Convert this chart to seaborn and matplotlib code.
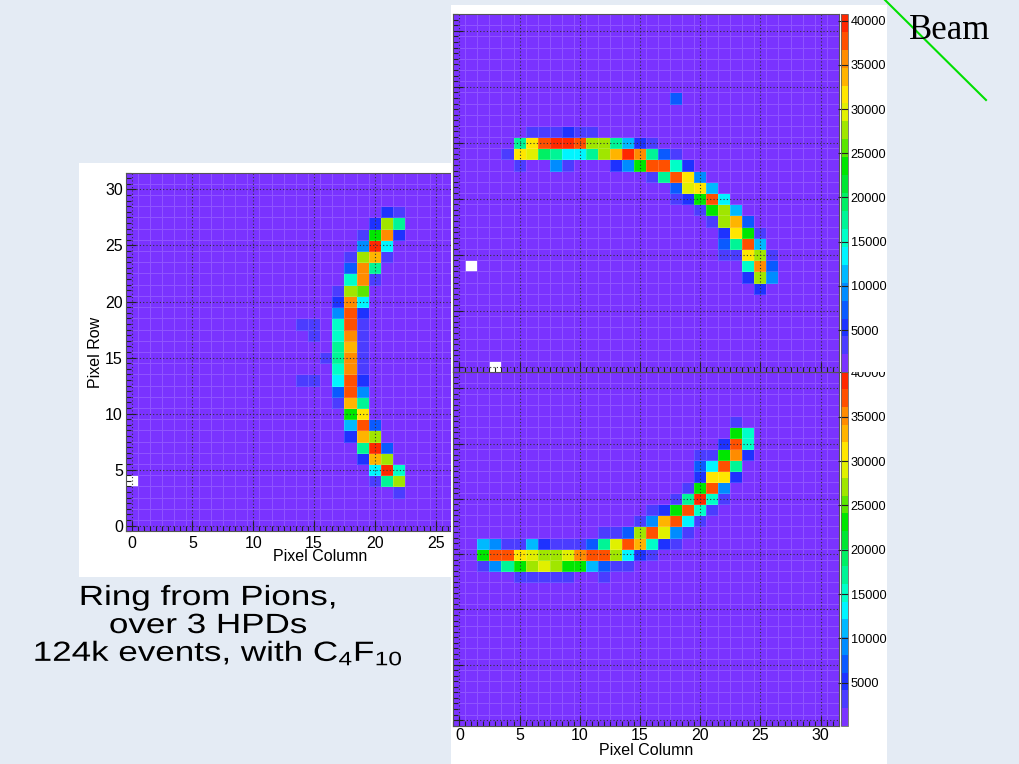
import numpy as np
import pandas as pd
import matplotlib
matplotlib.use("Agg")
import matplotlib.pyplot as plt
import seaborn as sns
from matplotlib.colors import ListedColormap
from matplotlib.patches import Rectangle
from matplotlib.lines import Line2D
from matplotlib.ticker import MultipleLocator
from matplotlib.patheffects import AbstractPathEffect
from matplotlib.transforms import Affine2D

plt.rcParams['font.family'] = ['Liberation Sans', 'DejaVu Sans']
plt.rcParams['mathtext.default'] = 'regular'

# ---------------------------------------------------------------- data
N_PIX = 32                      # 32 x 32 pixel HPD readout

# 20-level rainbow palette (low -> high)
root_palette = ['#7a33ff', '#4b3cff', '#1e32ff', '#0a5aff', '#008cff',
                '#00b9ff', '#00f5ff', '#00ffc8', '#00f596', '#00f064',
                '#00e632', '#00e600', '#5ae600', '#a0e600', '#e1f000',
                '#ffe600', '#ffb400', '#ff8c00', '#ff5000', '#ff2800']

cbar_ticks = [5000, 10000, 15000, 20000, 25000, 30000, 35000, 40000]

# HPD 1 (left): hits per row, as a run of pixel columns starting at `start`
left_rows = [28, 27, 26, 25, 24, 23, 22, 21, 20, 19, 18, 17, 16,
             15, 14, 13, 12, 11, 10, 9, 8, 7, 6, 5, 4, 3]
left_start = [21, 20, 19, 19, 18, 18, 18, 17, 17, 17, 14, 15, 17,
              16, 17, 14, 17, 17, 18, 18, 18, 19, 19, 20, 20, 22]
left_hits = [
    [5000, 3500],
    [5000, 27500, 17000],
    [3000, 23500, 35500, 5500],
    [9500, 39500, 13500],
    [3000, 27500, 33500, 3500],
    [7000, 35500, 17000],
    [15500, 35500, 3000],
    [3000, 27500, 25500],
    [5000, 35500, 13500],
    [9500, 37500, 5500],
    [3000, 3000, 0, 15500, 37500, 3500],
    [3000, 0, 15500, 35500, 3500],
    [17500, 33500, 3500],
    [3000, 17000, 35500, 3500],
    [15500, 35500, 3500],
    [3000, 3000, 0, 13500, 37500, 5000],
    [6500, 37500, 9500],
    [3000, 33500, 18000],
    [23500, 31000],
    [11500, 37500, 6500],
    [5000, 33500, 27500],
    [17500, 39500, 6500],
    [5000, 33500, 27500],
    [13500, 39500, 15500],
    [3000, 17000, 27500],
    [3500],
]
left_dead = [(0, 4)]            # (column, row)

# HPD 2 (top right)
top_rows = [24, 21, 20, 19, 18, 17, 16, 15, 14, 13, 12, 11, 10, 9, 8, 7]
top_start = [18, 6, 5, 4, 5, 16, 18, 18, 20, 21, 22, 22, 22, 24, 24, 25]
top_hits = [
    [7000],
    [3000, 3000, 3500, 5000, 3500, 3000],
    [17500, 31000, 37500, 39000, 39000, 37500, 27500, 27500, 17500, 11500, 5000, 3500],
    [3000, 31000, 29500, 19000, 17000, 13500, 13500, 18000, 27500, 33500, 39000,
     35500, 17500, 6500, 3500],
    [3000, 0, 0, 9500, 3500, 0, 0, 0, 5000, 9500, 23500, 37500, 37500, 15500, 5000],
    [3500, 17500, 38500, 31000, 9500],
    [6500, 29500, 31000, 11500],
    [3500, 5000, 23500, 37500, 13500],
    [3500, 23500, 27500, 11500],
    [3500, 27500, 33500, 6500],
    [5000, 31000, 23500, 3500],
    [6500, 17500, 37500, 11500],
    [3500, 3500, 31000, 27500, 3500],
    [15500, 35500, 7000],
    [5000, 27500, 9500],
    [5000],
]
top_dead = [(1, 9), (3, 0)]

# HPD 3 (bottom right)
bot_rows = [27, 26, 25, 24, 23, 22, 21, 20, 19, 18, 17, 16, 15, 14, 13]
bot_start = [23, 23, 22, 20, 20, 20, 19, 18, 16, 15, 12, 2, 2, 2, 5]
bot_hits = [
    [3500],
    [23500, 15500],
    [5000, 37500, 15500],
    [3500, 3500, 23500, 35500, 5000],
    [7000, 13500, 38000, 17500],
    [5000, 31000, 31000, 5000],
    [3500, 23500, 37500, 9500],
    [3500, 18000, 38500, 15500, 3500],
    [3500, 5000, 23500, 38000, 15500, 3500],
    [3500, 9500, 33500, 37500, 13500, 3500],
    [3500, 3500, 6500, 27500, 38000, 29500, 9500, 3500],
    [11500, 9500, 3500, 3500, 11500, 5000, 3500, 3500, 3500, 6500, 17500,
     29500, 38000, 34000, 15500, 5000, 3500],
    [23500, 37500, 37500, 31000, 29500, 27500, 27500, 29500, 35500, 38000,
     37500, 27500, 13500, 5000, 3500],
    [3500, 9500, 17500, 23500, 27500, 29500, 27500, 23500, 24000, 11500,
     6500, 3500, 3500],
    [3500, 3500, 3500, 3500, 3500, 0, 0, 3500],
]
bot_dead = []

top_range = (215, 40760)
bot_range = (160, 40085)

caption_lines = ['Ring from Pions,', 'over 3 HPDs',
                 '124k events, with C$_4$F$_{10}$']

# ---------------------------------------------------------------- helpers
W, H = 1020, 764
fig = plt.figure(figsize=(W / 100, H / 100), dpi=100)
fig.patch.set_facecolor('#e4ebf4')
cmap = ListedColormap(root_palette)


class WideText(AbstractPathEffect):
    """Draw text glyphs widened horizontally about a fixed x (in pixels)."""

    def __init__(self, sx, cx):
        super().__init__()
        self.sx, self.cx = sx, cx

    def draw_path(self, renderer, gc, tpath, affine, rgbFace=None):
        widen = Affine2D().translate(-self.cx, 0).scale(self.sx, 1).translate(self.cx, 0)
        renderer.draw_path(gc, tpath, affine + widen, rgbFace)


def box(x0, y0, x1, y1):
    """pixel box (top-left origin) -> figure-fraction rect"""
    return [x0 / W, 1 - y1 / H, (x1 - x0) / W, (y1 - y0) / H]


def white_canvas(x0, y0, x1, y1, z):
    fig.add_artist(Rectangle((x0 / W, 1 - y1 / H), (x1 - x0) / W, (y1 - y0) / H,
                             transform=fig.transFigure, facecolor='white',
                             edgecolor='none', zorder=z))


def hit_map(rows, starts, hits, dead):
    grid = np.zeros((N_PIX, N_PIX))
    for r, c0, run in zip(rows, starts, hits):
        grid[r, c0:c0 + len(run)] = run
    for c, r in dead:
        grid[r, c] = np.nan
    return pd.DataFrame(grid)


def draw_hpd(ax, df, vrange, cax=None, show_x=True, show_y=True,
             xlabel=None, ylabel=None, xlabelpad=0, xpad=2):
    sns.heatmap(df, ax=ax, cmap=cmap, vmin=vrange[0], vmax=vrange[1],
                cbar=cax is not None, cbar_ax=cax, mask=df.isna(),
                linewidths=0.5, linecolor=(1, 1, 1, 0.16),
                xticklabels=False, yticklabels=False)
    ax.set_xlim(0, N_PIX)
    ax.set_ylim(0, N_PIX)
    ax.set_facecolor('white')
    for s in ax.spines.values():
        s.set_visible(True)
        s.set_color('#555555')
        s.set_linewidth(0.8)
    pix = list(range(0, N_PIX, 5))
    major = np.array(pix) + 0.5
    ax.set_xticks(major, labels=[str(p) for p in pix])
    ax.set_yticks(major, labels=[str(p) for p in pix])
    ax.xaxis.set_minor_locator(MultipleLocator(0.5))
    ax.yaxis.set_minor_locator(MultipleLocator(0.5))
    ax.tick_params(which='both', direction='in', top=False, right=False,
                   color='#222222', width=0.8, labelsize=11.5, pad=2)
    ax.tick_params(which='major', length=7)
    ax.tick_params(which='minor', length=3.6)
    ax.tick_params(axis='x', labelbottom=show_x, pad=xpad)
    ax.tick_params(axis='y', labelleft=show_y)
    ax.grid(True, which='major', color='#333333', linestyle=(0, (1, 2)),
            linewidth=0.8)
    if xlabel:
        ax.set_xlabel(xlabel, fontsize=11.5, labelpad=xlabelpad)
    if ylabel:
        ax.set_ylabel(ylabel, fontsize=11.5, labelpad=1.5)
    if cax is not None:
        cb = ax.collections[0].colorbar
        cb.set_ticks(cbar_ticks, labels=[str(t) for t in cbar_ticks])
        cb.outline.set_linewidth(0.6)
        cb.outline.set_edgecolor('#666666')
        cax.tick_params(direction='in', length=7, width=0.8, color='#222222',
                        labelsize=9.2, pad=1.5)


# ---------------------------------------------------------------- HPD 1 (left)
white_canvas(79, 162.7, 452, 577, z=0.5)
ax_l = fig.add_axes(box(125.6, 172.6, 514.7, 531.3), zorder=1)
draw_hpd(ax_l, hit_map(left_rows, left_start, left_hits, left_dead), top_range,
         xlabel='Pixel Column', ylabel='Pixel Row', xlabelpad=-1.5, xpad=3.2)

# ---------------------------------------------------------------- HPD 3 (bottom right)
white_canvas(450.7, 371, 887, 764, z=2)
ax_b = fig.add_axes(box(453.3, 371.6, 838.7, 725.6), zorder=3)
cax_b = fig.add_axes(box(841.5, 371.6, 848.5, 725.6), zorder=3)
draw_hpd(ax_b, hit_map(bot_rows, bot_start, bot_hits, bot_dead), bot_range,
         cax=cax_b, show_y=False, xlabel='Pixel Column', xlabelpad=0)

# ---------------------------------------------------------------- HPD 2 (top right)
white_canvas(450.7, 4.7, 887, 372.3, z=4)
ax_t = fig.add_axes(box(453.3, 13.9, 838.7, 372.3), zorder=5)
cax_t = fig.add_axes(box(841.5, 13.9, 848.5, 372.3), zorder=5)
draw_hpd(ax_t, hit_map(top_rows, top_start, top_hits, top_dead), top_range,
         cax=cax_t, show_x=False, show_y=False)

# ---------------------------------------------------------------- annotations
fig.add_artist(Line2D([885 / W, 986 / W], [1.0, 1 - 100 / H],
                      transform=fig.transFigure, color='#00e000',
                      linewidth=1.5, zorder=6))
fig.text(909 / W, 1 - 39 / H, 'Beam', family=['Liberation Serif', 'DejaVu Serif'],
         fontsize=25, va='baseline', ha='left', color='black', zorder=7)

for txt, cx, base in zip(caption_lines, [208, 208, 218], [605, 633, 661]):
    fig.text(cx / W, 1 - base / H, txt, fontsize=20, ha='center',
             va='baseline', color='black', zorder=7,
             path_effects=[WideText(1.26, cx)])

fig.savefig('out.png', dpi=100, facecolor=fig.get_facecolor())
